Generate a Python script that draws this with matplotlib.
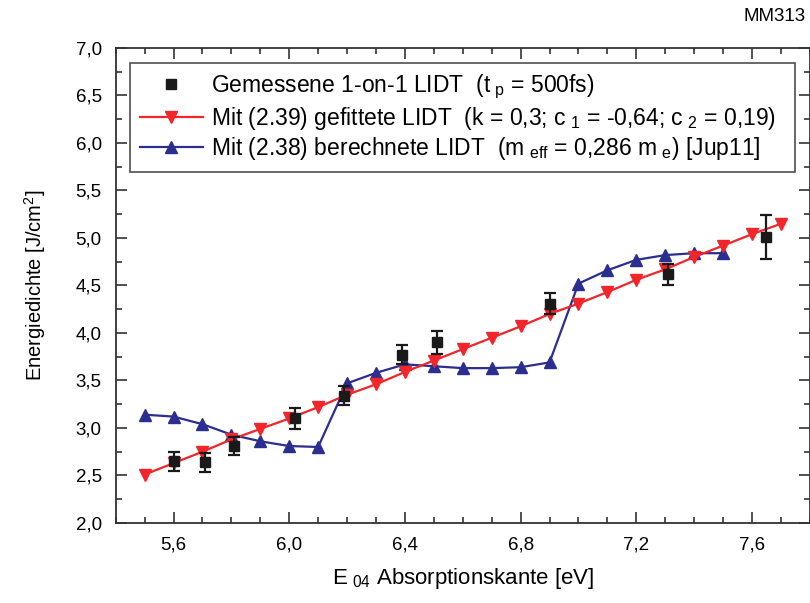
import matplotlib.pyplot as plt
from matplotlib.ticker import MultipleLocator, FuncFormatter

plt.rcParams['font.family'] = ['Liberation Sans', 'DejaVu Sans']
plt.rcParams['mathtext.fontset'] = 'custom'
plt.rcParams['mathtext.rm'] = 'Liberation Sans'

# --- Daten ---
x_fit = [5.5, 5.6, 5.7, 5.8, 5.9, 6.0, 6.1, 6.2, 6.3, 6.4, 6.5, 6.6,
         6.7, 6.8, 6.9, 7.0, 7.1, 7.2, 7.3, 7.4, 7.5, 7.6, 7.7]
y_fit = [2.51, 2.63, 2.75, 2.88, 2.99, 3.10, 3.22, 3.35, 3.46, 3.59, 3.71, 3.83,
         3.95, 4.07, 4.20, 4.31, 4.43, 4.56, 4.67, 4.80, 4.92, 5.04, 5.15]

x_calc = [5.5, 5.6, 5.7, 5.8, 5.9, 6.0, 6.1, 6.2, 6.3, 6.4, 6.5,
          6.6, 6.7, 6.8, 6.9, 7.0, 7.1, 7.2, 7.3, 7.4, 7.5]
y_calc = [3.14, 3.12, 3.04, 2.93, 2.86, 2.81, 2.80, 3.47, 3.58, 3.67, 3.65,
          3.63, 3.63, 3.64, 3.69, 4.52, 4.66, 4.77, 4.82, 4.84, 4.84]

x_mess = [5.60, 5.71, 5.81, 6.02, 6.19, 6.39, 6.51, 6.90, 7.31, 7.65]
y_mess = [2.65, 2.64, 2.81, 3.10, 3.34, 3.77, 3.90, 4.31, 4.62, 5.01]
err_mess = [0.10, 0.10, 0.09, 0.11, 0.10, 0.10, 0.125, 0.11, 0.11, 0.23]

fig = plt.figure(figsize=(8.1, 6.03), dpi=100)
ax = fig.add_axes([0.1428, 0.1327, 0.857, 0.7877])

# Messpunkte: Fehlerbalken ohne Legende, Quadrate mit Legende
ax.errorbar(x_mess, y_mess, yerr=err_mess, fmt='none', ecolor='#1a1a1a',
            capsize=4.5, capthick=1.6, elinewidth=1.6, zorder=5)
ax.plot(x_mess, y_mess, 's', color='#1a1a1a', ms=7, zorder=6,
        label=r'Gemessene 1-on-1 LIDT  (t$\mathregular{_{\ p}}$ = 500fs)')
ax.plot(x_fit, y_fit, '-v', color='#f2252b', lw=1.6, ms=9, zorder=4,
        label=r'Mit (2.39) gefittete LIDT  (k = 0,3; c$\mathregular{_{\ 1}}$ = -0,64; c$\mathregular{_{\ 2}}$ = 0,19)')
ax.plot(x_calc, y_calc, '-^', color='#2b2e8f', lw=1.6, ms=9, zorder=3,
        label=r'Mit (2.38) berechnete LIDT  (m$\mathregular{_{\ eff}}$ = 0,286 m$\mathregular{_{\ e}}$) [Jup11]')

ax.set_xlim(5.4, 7.8)
ax.set_ylim(2.0, 7.0)
ax.xaxis.set_major_locator(MultipleLocator(0.4))
ax.xaxis.set_minor_locator(MultipleLocator(0.1))
ax.yaxis.set_major_locator(MultipleLocator(0.5))
ax.yaxis.set_minor_locator(MultipleLocator(0.25))
ax.xaxis.set_major_formatter(FuncFormatter(lambda v, p: f'{v:.1f}'.replace('.', ',')))
ax.yaxis.set_major_formatter(FuncFormatter(lambda v, p: f'{v:.1f}'.replace('.', ',')))
ax.tick_params(which='both', direction='in', top=True, right=True, labelsize=13.5,
               color='#333333', width=1.2)
ax.tick_params(which='major', length=8, pad=10)
ax.tick_params(which='minor', length=4)
for s in ax.spines.values():
    s.set_linewidth(1.3)
    s.set_color('#333333')

ax.set_xlabel(r'E$\mathregular{_{\ 04}}$ Absorptionskante [eV]', fontsize=16, labelpad=9)
ax.set_ylabel(r'Energiedichte [J/cm$\mathregular{^2}$]', fontsize=14.5, labelpad=20)

leg = ax.legend(loc='upper left', bbox_to_anchor=(0.0206, 0.968, 0.958, 0), mode='expand',
                borderaxespad=0, fontsize=16.5, fancybox=False, edgecolor='#222222',
                handlelength=2.75, handletextpad=0.35, labelspacing=0.15, borderpad=0.42)
leg.get_frame().set_linewidth(1.2)

fig.text(0.994, 0.972, 'MM313', ha='right', va='center', fontsize=13.5)

fig.savefig('out.png', dpi=100)
